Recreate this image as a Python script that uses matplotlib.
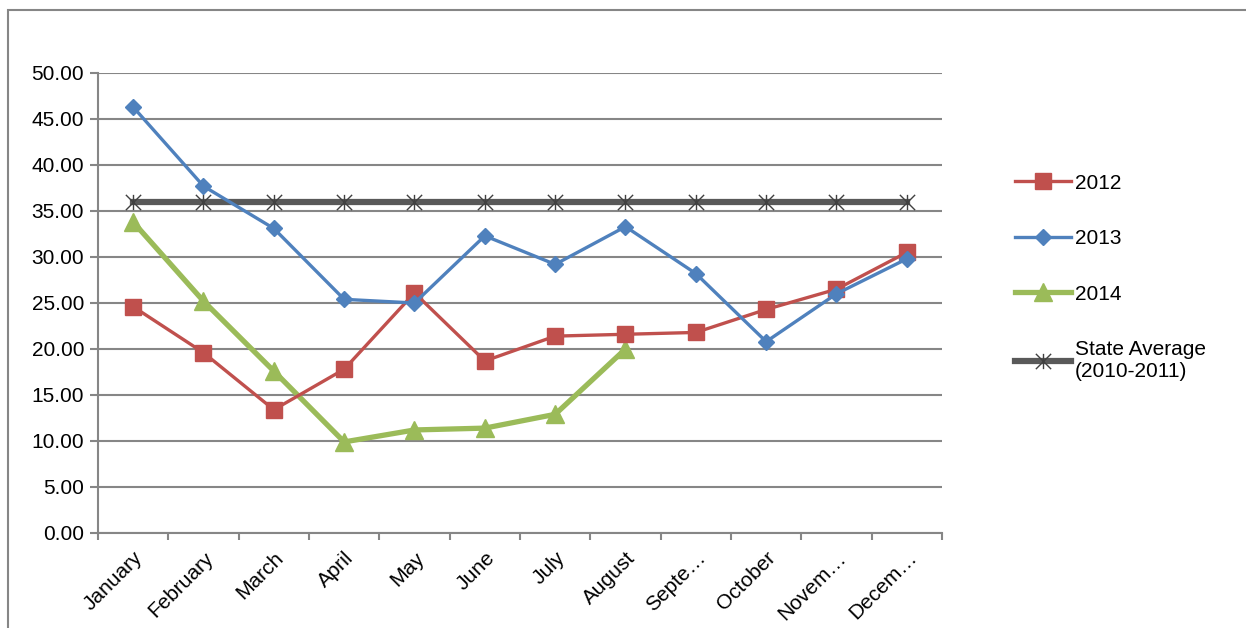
import matplotlib
matplotlib.use("Agg")
import matplotlib.pyplot as plt
from matplotlib.path import Path
from matplotlib.patches import Rectangle

MONTHS = ["January", "February", "March", "April", "May", "June",
          "July", "August", "Septe…", "October", "Novem…", "Decem…"]
VALUES_2012 = [24.6, 19.6, 13.4, 17.8, 26.1, 18.7, 21.4, 21.6, 21.8, 24.3, 26.5, 30.5]
VALUES_2013 = [46.3, 37.7, 33.1, 25.4, 25.0, 32.3, 29.2, 33.3, 28.2, 20.8, 26.0, 29.8]
VALUES_2014 = [33.8, 25.2, 17.6, 9.9, 11.2, 11.4, 12.9, 20.0]
STATE_AVG = [36.0] * 12
Y_TICKS = [0, 5, 10, 15, 20, 25, 30, 35, 40, 45, 50]

FONT = ["Liberation Sans", "DejaVu Sans"]
NARROW = ["Liberation Sans Narrow", "Liberation Sans", "DejaVu Sans"]

# excel style star marker: an X with a vertical bar through it
star = Path([(-1, -1), (1, 1), (-1, 1), (1, -1), (0, -1), (0, 1)],
            [Path.MOVETO, Path.LINETO, Path.MOVETO, Path.LINETO, Path.MOVETO, Path.LINETO])


def main():
  fig = plt.figure(figsize=(12.46, 6.28), dpi=100)
  fig.patches.append(Rectangle((8 / 1246, -0.1), 2, 1.1 - 10 / 628,
                               transform=fig.transFigure, fill=False,
                               edgecolor="#868686", linewidth=1.5))
  ax = fig.add_axes([98 / 1246, 95 / 628, 844 / 1246, 460 / 628])

  x = [i + 0.5 for i in range(12)]
  ax.plot(x, VALUES_2012, color="#C0504D", linewidth=2.4, marker="s",
          markersize=11, label="2012", zorder=4)
  ax.plot(x, VALUES_2013, color="#4F81BD", linewidth=2.4, marker="D",
          markersize=8, label="2013", zorder=5)
  ax.plot(x[:len(VALUES_2014)], VALUES_2014, color="#9BBB59", linewidth=3.8,
          marker="^", markersize=13, label="2014", zorder=3)
  ax.plot(x, STATE_AVG, color="#595959", linewidth=4.5, marker=star,
          markersize=11, markeredgewidth=1.0, markerfacecolor="none",
          markeredgecolor="#404040", label="State Average\n(2010-2011)", zorder=2)

  ax.set_xlim(0, 12)
  ax.set_ylim(0, 50)
  ax.set_yticks(Y_TICKS)
  ax.set_yticklabels([f"{v:.2f}" for v in Y_TICKS], family=FONT, fontsize=15)
  ax.set_xticks(range(13))
  ax.set_xticklabels([])
  ax.set_xticks(x, minor=True)
  ax.set_xticklabels(MONTHS, minor=True, rotation=45, ha="right", va="top",
                     rotation_mode="anchor", family=FONT, fontsize=15)
  ax.tick_params(axis="x", which="minor", length=0, pad=11)
  ax.tick_params(axis="x", which="major", length=5, width=1.5, color="#868686", direction="out")
  ax.tick_params(axis="y", length=6, width=1.5, color="#868686", pad=4)

  ax.grid(axis="y", color="#868686", linewidth=1.5)
  ax.set_axisbelow(True)
  for side in ["top", "right"]:
    ax.spines[side].set_visible(False)
  for side in ["left", "bottom"]:
    ax.spines[side].set_color("#868686")
    ax.spines[side].set_linewidth(1.5)

  fig.legend(loc="upper left", bbox_to_anchor=(996 / 1246, 1 - 155 / 628),
             frameon=False, prop={"family": NARROW, "size": 15},
             handlelength=2.7, handletextpad=0.2, labelspacing=1.75)

  fig.savefig("out.png", dpi=100)


if __name__ == "__main__":
  main()
